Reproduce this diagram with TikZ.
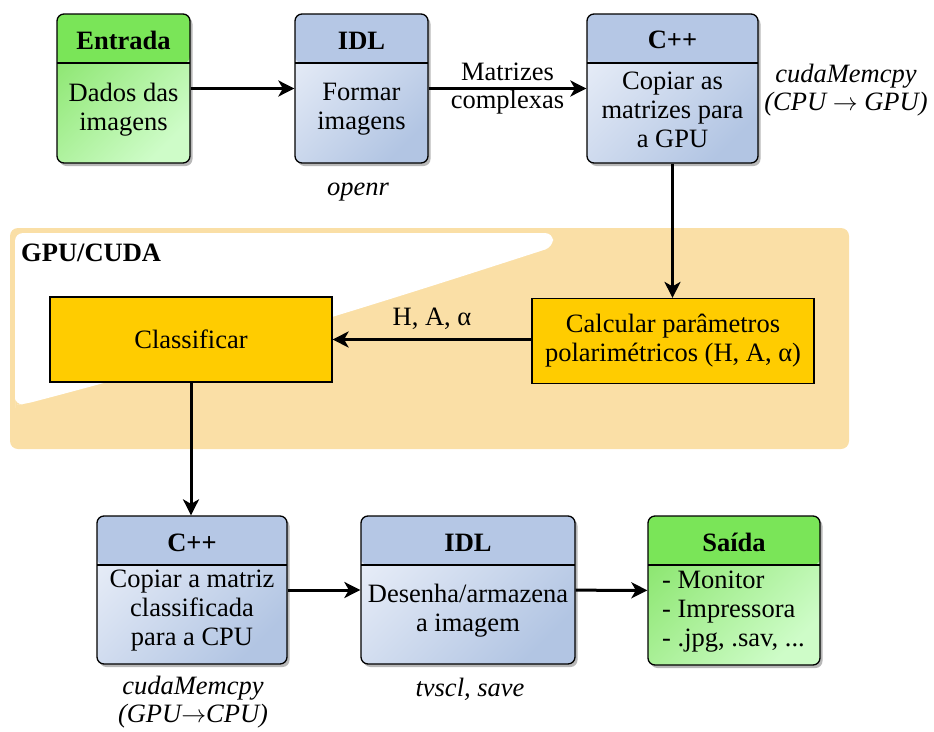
\documentclass[tikz,border=0pt]{standalone}
\usepackage{fontspec}
\setmainfont{Liberation Serif}
\usetikzlibrary{arrows.meta,shadows}
\definecolor{greenhead}{RGB}{122,229,88}
\definecolor{greentl}{RGB}{140,230,112}
\definecolor{greenbr}{RGB}{206,252,200}
\definecolor{bluehead}{RGB}{181,199,229}
\definecolor{bluetl}{RGB}{230,236,247}
\definecolor{bluebr}{RGB}{178,197,227}
\definecolor{gold}{RGB}{255,204,0}
\definecolor{regionfill}{RGB}{250,223,166}
\tikzset{
  every node/.style={font=\fontsize{26.5}{29}\selectfont},
  boxbase/.style={draw=black, line width=1.3pt, rounded corners=7pt, inner sep=0pt,
    drop shadow={shadow xshift=2.5pt, shadow yshift=-3pt, opacity=0.28, fill=black}},
  headed/.style={path picture={
      \fill[#1] (path picture bounding box.north west) rectangle ([yshift=-49pt]path picture bounding box.north east);
      \draw[line width=1.1pt] ([yshift=-49pt]path picture bounding box.north west) -- ([yshift=-49pt]path picture bounding box.north east);}},
  greenbox/.style={boxbase, top color=greentl, bottom color=greenbr, shading angle=45, headed=greenhead},
  bluebox/.style={boxbase, top color=bluetl, bottom color=bluebr, shading angle=45, headed=bluehead},
  goldbox/.style={draw=black, line width=1.2pt, fill=gold, inner sep=0pt, minimum width=282pt, minimum height=85pt},
  headtxt/.style={font=\fontsize{26.5}{29}\selectfont\bfseries},
  bodytxt/.style={align=center, inner sep=0pt},
  note/.style={align=center, inner sep=0pt, font=\fontsize{26.5}{28.5}\selectfont\itshape},
  flow/.style={line width=3pt, -{Stealth[length=16pt,width=16pt,inset=4.5pt]}}
}
\begin{document}
\begin{tikzpicture}[x=1pt,y=-1pt]
\useasboundingbox (0,0) rectangle (934,731);
% GPU/CUDA region
\node[fill=regionfill, rounded corners=8pt, minimum width=839pt, minimum height=221pt, inner sep=0pt] (gpu) at (429.5,338.5) {};
\fill[white, rounded corners=8pt] (15,400) -- (15,233) -- (553,233) -- (553,247)
  .. controls (420,290) and (250,345) .. (25,404) -- (15,405) -- cycle;
\node[headtxt, anchor=west, inner sep=0pt] (gpulabel) at (21,253) {GPU/CUDA};

% top row
\node[greenbox, minimum width=133pt, minimum height=149pt] (entrada) at (123.5,88.5) {};
\node[headtxt] (entradah) at ([yshift=-27pt]entrada.north) {Entrada};
\node[bodytxt] (entradab) at ([yshift=-21pt]entrada.center) {Dados das\\imagens};

\node[bluebox, minimum width=133pt, minimum height=149pt] (idla) at (361.5,88.5) {};
\node[headtxt] (idlah) at ([yshift=-27pt]idla.north) {IDL};
\node[bodytxt] (idlab) at ([yshift=-21pt]idla.center) {Formar\\imagens};
\node[note] (openr) at (358,192) {openr};

\node[bluebox, minimum width=171pt, minimum height=149pt] (cppa) at (672.5,88.5) {};
\node[headtxt] (cppah) at ([yshift=-27pt]cppa.north) {C++};
\node[bodytxt] (cppab) at ([yshift=-21pt]cppa.center) {Copiar as\\matrizes para\\a GPU};
\node[note] (memcpya) at (846,90) {cudaMemcpy\\(CPU $\rightarrow$ GPU)};

% GPU row
\node[goldbox] (class) at (191,339.5) {Classificar};
\node[goldbox, align=center] (calc) at (673,341) {Calcular parâmetros\\polarimétricos (H, A, α)};

% bottom row
\node[bluebox, minimum width=190pt, minimum height=148pt] (cppb) at (192,590) {};
\node[headtxt] (cppbh) at ([yshift=-27pt]cppb.north) {C++};
\node[bodytxt] (cppbb) at ([yshift=-21pt]cppb.center) {Copiar a matriz\\classificada\\para a CPU};
\node[note] (memcpyb) at (193,702) {cudaMemcpy\\(GPU$\rightarrow$CPU)};

\node[bluebox, minimum width=214pt, minimum height=148pt] (idlb) at (468,590) {};
\node[headtxt] (idlbh) at ([yshift=-27pt]idlb.north) {IDL};
\node[bodytxt] (idlbb) at ([yshift=-21pt]idlb.center) {Desenha/armazena\\a imagem};
\node[note] (tvscl) at (470,689) {tvscl, save};

\node[greenbox, minimum width=172pt, minimum height=149pt] (saida) at (734,590.5) {};
\node[headtxt] (saidah) at ([yshift=-27pt]saida.north) {Saída};
\node[bodytxt, align=left, anchor=west] (saidab) at ([yshift=-21pt, xshift=-72pt]saida.center) {- Monitor\\- Impressora\\- .jpg, .sav, ...};

% connectors
\draw[flow] (entrada) -- (idla);
\draw[flow] (idla) -- node[align=center, inner sep=0pt, font=\fontsize{26.5}{28.5}\selectfont] (matlabel) {Matrizes\\complexas} (cppa);
\draw[flow] (cppa.south) -- (cppa.south |- calc.north);
\draw[flow] (calc.west |- class.east) -- node[above=8pt, inner sep=0pt] (hlabel) {H, A, α} (class.east);
\draw[flow] (class.south) -- (class.south |- cppb.north);
\draw[flow] (cppb) -- (idlb);
\draw[flow] (idlb) -- (saida);
\end{tikzpicture}
\end{document}
